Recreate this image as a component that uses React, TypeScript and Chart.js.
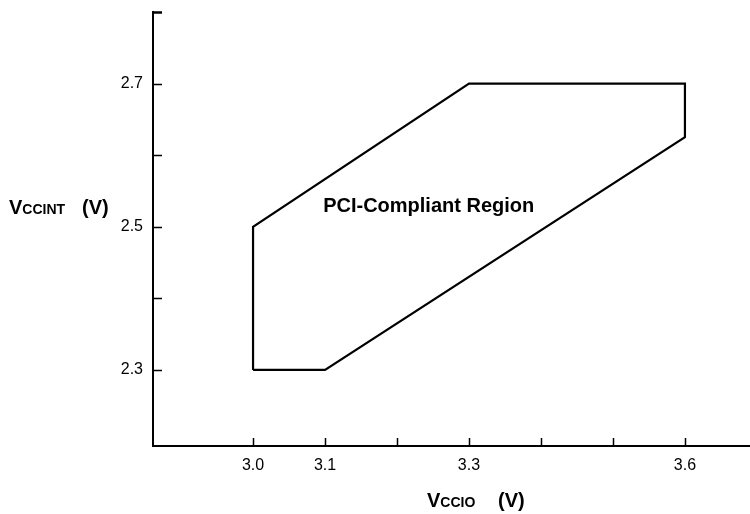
import React, { useEffect, useRef } from "react";
import { Chart, registerables } from "chart.js";

Chart.register(...registerables);

// Region boundary (closed polygon)
const vccio = [3.0, 3.1, 3.6, 3.6, 3.3, 3.0, 3.0];
const vccint = [2.3, 2.3, 2.625, 2.7, 2.7, 2.5, 2.3];

// Axes
const xMin = 2.861;
const xMax = 3.689;
const yMin = 2.1937;
const yMax = 2.8;
const xTicks = [3.0, 3.1, 3.2, 3.3, 3.4, 3.5, 3.6];
const xLabels = ["3.0", "3.1", "3.3", "3.6"];
const yTicks = [2.3, 2.4, 2.5, 2.6, 2.7, 2.8];
const yLabels = ["2.3", "2.5", "2.7"];

const regionLabel = "PCI-Compliant Region";
const regionLabelPos = { x: 3.244, y: 2.529 };

const FONT = "'Liberation Sans', Arial, Helvetica, sans-serif";

const decorPlugin = {
  id: "decor",
  afterDraw(chart: any) {
    const ctx = chart.ctx as CanvasRenderingContext2D;
    const xs = chart.scales.x;
    const ys = chart.scales.y;
    const area = chart.chartArea;
    ctx.save();
    ctx.strokeStyle = "#000";
    // inward tick marks on y axis
    yTicks.forEach((v) => {
      const py = Math.round(ys.getPixelForValue(v)) + 0.5;
      ctx.lineWidth = v === yMax ? 2.5 : 1.5;
      ctx.beginPath();
      ctx.moveTo(area.left, py);
      ctx.lineTo(area.left + 9, py);
      ctx.stroke();
    });
    // inward tick marks on x axis
    ctx.lineWidth = 1.5;
    xTicks.forEach((v) => {
      const px = Math.round(xs.getPixelForValue(v)) + 0.5;
      ctx.beginPath();
      ctx.moveTo(px, area.bottom);
      ctx.lineTo(px, area.bottom - 8);
      ctx.stroke();
    });

    // region label
    ctx.fillStyle = "#000";
    ctx.font = `bold 20px ${FONT}`;
    ctx.textAlign = "center";
    ctx.textBaseline = "middle";
    ctx.fillText(
      regionLabel,
      xs.getPixelForValue(regionLabelPos.x),
      ys.getPixelForValue(regionLabelPos.y)
    );

    // axis titles with subscripts
    const drawTitle = (x: number, baseline: number, sub: string, unitX: number) => {
      ctx.textAlign = "left";
      ctx.textBaseline = "alphabetic";
      ctx.font = `bold 20px ${FONT}`;
      ctx.fillText("V", x, baseline);
      const w = ctx.measureText("V").width;
      ctx.font = `bold 14px ${FONT}`;
      ctx.fillText(sub, x + w, baseline);
      ctx.font = `bold 20px ${FONT}`;
      ctx.fillText("(V)", unitX, baseline);
    };
    drawTitle(9, 214, "CCINT", 82);
    drawTitle(427, 507, "CCIO", 498);
    ctx.restore();
  },
};

export default function App() {
  const canvasRef = useRef<HTMLCanvasElement | null>(null);

  useEffect(() => {
    const canvas = canvasRef.current;
    if (!canvas) return;
    const chart = new Chart(canvas, {
      type: "scatter",
      data: {
        datasets: [
          {
            data: vccio.map((x, i) => ({ x, y: vccint[i] })),
            showLine: true,
            borderColor: "#000",
            borderWidth: 2.2,
            pointRadius: 0,
            fill: false,
            tension: 0,
            borderJoinStyle: "miter",
            clip: false as any,
          } as any,
        ],
      },
      options: {
        responsive: false,
        animation: false,
        events: [],
        layout: { padding: { top: 12, right: 1, left: 0, bottom: 0 } },
        plugins: {
          legend: { display: false },
          tooltip: { enabled: false },
          title: { display: false },
        },
        scales: {
          x: {
            type: "linear",
            min: xMin,
            max: xMax,
            grid: { display: false, drawTicks: false },
            border: { display: true, color: "#000", width: 2 },
            afterBuildTicks: (scale: any) => {
              scale.ticks = xTicks.map((v) => ({ value: v }));
            },
            afterFit: (scale: any) => {
              scale.height = 68;
              scale.paddingLeft = 0;
              scale.paddingRight = 0;
            },
            ticks: {
              autoSkip: false,
              maxRotation: 0,
              padding: 10,
              color: "#000",
              font: { family: FONT, size: 16 },
              callback: (value: any) => {
                const s = Number(value).toFixed(1);
                return xLabels.includes(s) ? s : "";
              },
            },
          },
          y: {
            type: "linear",
            min: yMin,
            max: yMax,
            grid: { display: false, drawTicks: false },
            border: { display: true, color: "#000", width: 2 },
            afterBuildTicks: (scale: any) => {
              scale.ticks = yTicks.map((v) => ({ value: v }));
            },
            afterFit: (scale: any) => {
              scale.width = 153;
              scale.paddingTop = 0;
              scale.paddingBottom = 0;
            },
            ticks: {
              autoSkip: false,
              padding: 10,
              color: "#000",
              font: { family: FONT, size: 16 },
              callback: (value: any) => {
                const s = Number(value).toFixed(1);
                return yLabels.includes(s) ? s : "";
              },
            },
          },
        },
      },
      plugins: [decorPlugin],
    });
    return () => chart.destroy();
  }, []);

  return (
    <div style={{ position: "absolute", left: 0, top: 0, width: 750, height: 514, background: "#fff" }}>
      <canvas ref={canvasRef} width={750} height={514} />
    </div>
  );
}
